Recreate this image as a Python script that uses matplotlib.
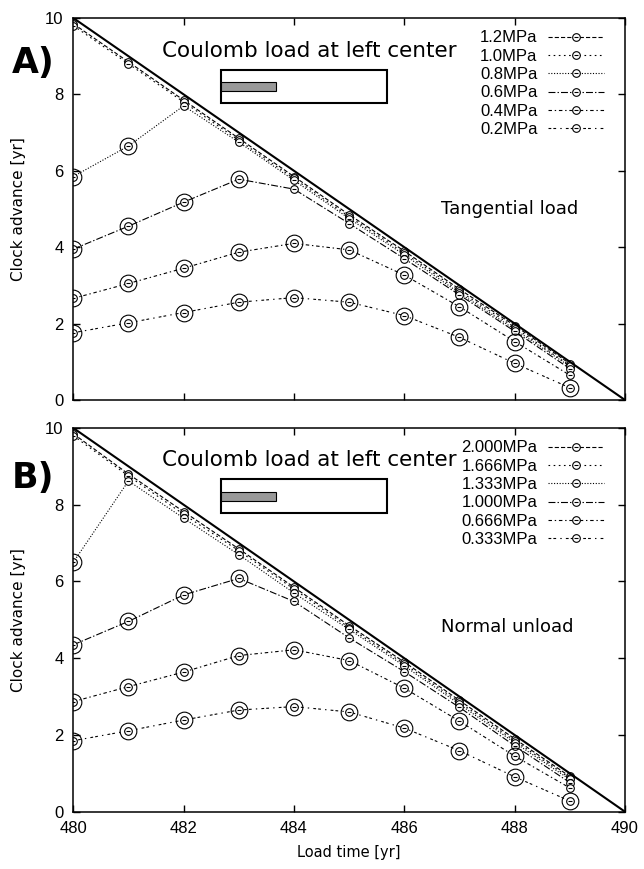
import numpy as np
import matplotlib
matplotlib.use('Agg')
import matplotlib.pyplot as plt
from matplotlib.patches import Rectangle

plt.rcParams['lines.scale_dashes'] = False

# Data
load_time = [480, 481, 482, 483, 484, 485, 486, 487, 488, 489]
ref_x = [480, 490]
ref_y = [10, 0]

labels_a = ['1.2MPa', '1.0MPa', '0.8MPa', '0.6MPa', '0.4MPa', '0.2MPa']
a_12 = [9.85, 8.85, 7.85, 6.85, 5.85, 4.85, 3.9, 2.9, 1.95, 0.95]
a_10 = [9.8, 8.8, 7.8, 6.8, 5.8, 4.8, 3.85, 2.85, 1.9, 0.9]
a_08 = [5.85, 6.65, 7.7, 6.75, 5.75, 4.75, 3.8, 2.8, 1.85, 0.88]
a_06 = [3.95, 4.55, 5.18, 5.78, 5.52, 4.62, 3.7, 2.75, 1.8, 0.82]
a_04 = [2.66, 3.05, 3.45, 3.87, 4.1, 3.93, 3.27, 2.44, 1.53, 0.65]
a_02 = [1.76, 2.02, 2.29, 2.56, 2.68, 2.56, 2.21, 1.64, 0.96, 0.32]
big_a = [[], [], [0, 1], [0, 1, 2, 3], [0, 1, 2, 3, 4, 5, 6, 7, 8],
         [0, 1, 2, 3, 4, 5, 6, 7, 8, 9]]

labels_b = ['2.000MPa', '1.666MPa', '1.333MPa', '1.000MPa', '0.666MPa', '0.333MPa']
b_2000 = [9.85, 8.8, 7.82, 6.85, 5.85, 4.85, 3.9, 2.9, 1.9, 0.92]
b_1666 = [9.8, 8.75, 7.75, 6.8, 5.8, 4.8, 3.85, 2.85, 1.85, 0.88]
b_1333 = [6.5, 8.62, 7.65, 6.7, 5.7, 4.75, 3.8, 2.8, 1.8, 0.84]
b_1000 = [4.35, 4.96, 5.65, 6.08, 5.48, 4.53, 3.65, 2.72, 1.72, 0.76]
b_0666 = [2.87, 3.26, 3.64, 4.07, 4.22, 3.94, 3.22, 2.36, 1.45, 0.62]
b_0333 = [1.85, 2.11, 2.39, 2.65, 2.74, 2.6, 2.18, 1.59, 0.91, 0.28]
big_b = [[], [], [0], [0, 1, 2, 3], [0, 1, 2, 3, 4, 5, 6, 7, 8],
         [0, 1, 2, 3, 4, 5, 6, 7, 8, 9]]

styles = [(0, (3, 1.5)), (0, (1.2, 2.5)), (0, (0.8, 1.2)),
          (0, (5, 1.5, 1, 1.5)), (0, (2.5, 2, 1, 2)), (0, (2, 1.5, 2, 3, 1, 3))]

tick_font = 'Liberation Sans'

fig = plt.figure(figsize=(6.44, 8.69), dpi=100)
ax_a = fig.add_axes([0.1138, 0.5397, 0.8567, 0.4396])
ax_b = fig.add_axes([0.1138, 0.0659, 0.8567, 0.4416])


def draw_panel(ax, series, labels, bigs, title, side_text, bar_y, box_y, side_y, show_x):
    ax.plot(ref_x, ref_y, color='black', lw=1.5, zorder=3)
    handles = []
    for vals, lab, ls, big in zip(series, labels, styles, bigs):
        ln, = ax.plot(load_time, vals, color='black', lw=0.8, linestyle=ls,
                      marker='o', ms=5.5, mfc='white', mec='black', mew=0.8)
        dot, = ax.plot(load_time, vals, linestyle='none', marker='_',
                       ms=2.5, mec='black', mew=0.8)
        bx = [load_time[i] for i in big]
        by = [vals[i] for i in big]
        ax.plot(bx, by, linestyle='none', marker='o', ms=12, mfc='none',
                mec='black', mew=0.8)
        handles.append((ln, dot))
    ax.legend(handles, labels, loc='upper right', bbox_to_anchor=(0.985, 1.0),
              frameon=False, markerfirst=False, handlelength=3.4,
              handletextpad=0.6, labelspacing=0.2, borderpad=0.25,
              prop={'family': tick_font, 'size': 12})
    ax.text(0.161, box_y[1] + 0.035, title, transform=ax.transAxes,
            fontsize=15.5, family='DejaVu Sans', ha='left', va='baseline')
    ax.text(0.667, side_y, side_text, transform=ax.transAxes,
            fontsize=13, family='DejaVu Sans', ha='left', va='baseline')
    ax.add_patch(Rectangle((0.2677, box_y[0]), 0.3009, box_y[1] - box_y[0],
                           transform=ax.transAxes, fill=False, ec='black', lw=1.5))
    ax.add_patch(Rectangle((0.2677, bar_y[0]), 0.0997, bar_y[1] - bar_y[0],
                           transform=ax.transAxes, fc='#999999', ec='black', lw=0.8))
    ax.set_xlim(480, 490)
    ax.set_ylim(0, 10)
    ax.set_xticks([480, 482, 484, 486, 488, 490])
    ax.set_yticks([0, 2, 4, 6, 8, 10])
    ax.tick_params(direction='in', length=5, width=1, top=True, right=True,
                   labelsize=12, pad=7)
    for lbl in ax.get_xticklabels() + ax.get_yticklabels():
        lbl.set_family(tick_font)
    if not show_x:
        ax.tick_params(labelbottom=False)
    for sp in ax.spines.values():
        sp.set_linewidth(1.1)
    ax.set_ylabel('Clock advance [yr]', fontsize=11, family='DejaVu Sans', labelpad=14)


draw_panel(ax_a, [a_12, a_10, a_08, a_06, a_04, a_02], labels_a, big_a,
           'Coulomb load at left center', 'Tangential load',
           (0.8089, 0.8325), (0.7775, 0.8639), 0.487, False)
draw_panel(ax_b, [b_2000, b_1666, b_1333, b_1000, b_0666, b_0333], labels_b, big_b,
           'Coulomb load at left center', 'Normal unload',
           (0.8105, 0.834), (0.7793, 0.8663), 0.469, True)
ax_b.set_xlabel('Load time [yr]', fontsize=10.5, family='DejaVu Sans', labelpad=6)

fig.text(0.0186, 0.916, 'A)', fontsize=25, fontweight='bold', family='DejaVu Sans')
fig.text(0.0186, 0.4384, 'B)', fontsize=25, fontweight='bold', family='DejaVu Sans')

fig.savefig('out.png', dpi=100)
